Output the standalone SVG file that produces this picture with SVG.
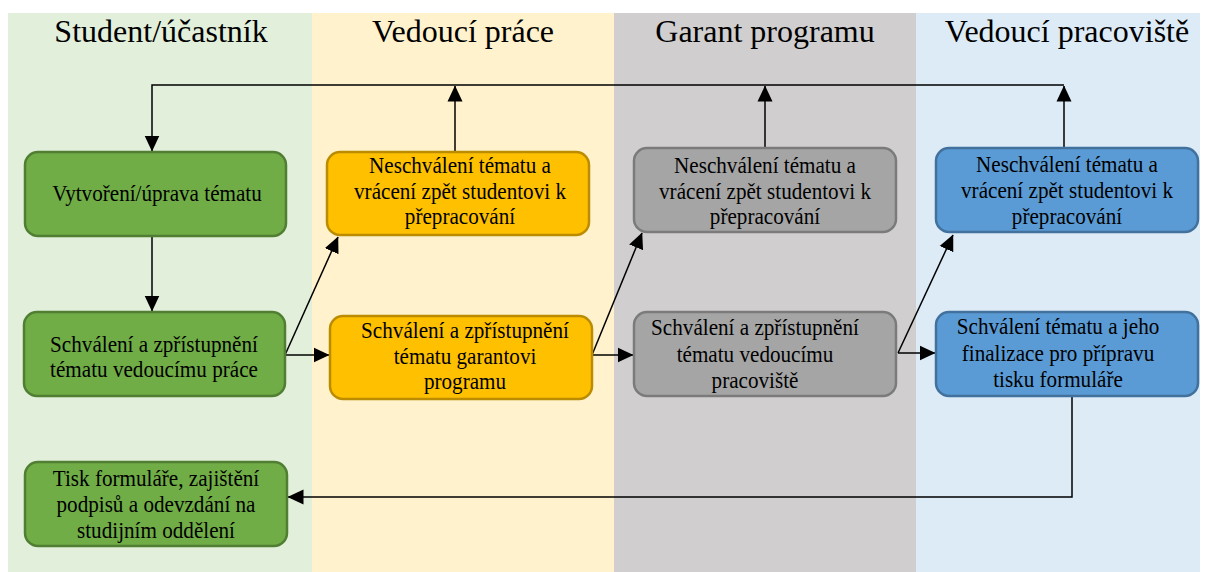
<svg xmlns="http://www.w3.org/2000/svg" width="1208" height="572" viewBox="0 0 1208 572">
<style>
.t{font-family:'Liberation Serif','Times New Roman',serif;font-size:23px;fill:#000;text-anchor:middle}
.h{font-family:'Liberation Serif','Times New Roman',serif;font-size:32px;fill:#000;text-anchor:middle}
.c{fill:none;stroke:#000;stroke-width:1.5}
.g{fill:#70AD47;stroke:#507E32;stroke-width:2.5}
.y{fill:#FFC000;stroke:#BC8C00;stroke-width:2.5}
.s{fill:#A5A5A5;stroke:#7B7B7B;stroke-width:2.5}
.b{fill:#5B9BD5;stroke:#41719C;stroke-width:2.5}
</style>
<defs>
<marker id="a" markerUnits="userSpaceOnUse" markerWidth="16" markerHeight="16" viewBox="0 0 16 16" refX="15.5" refY="8" orient="auto">
<path d="M0,0.5 L16,8 L0,15.5 Z" fill="#000"/>
</marker>
</defs>
<rect width="1208" height="572" fill="#fff"/>
<g id="lanes">
<rect x="8" y="13" width="304" height="559" fill="#E2EFDA"/>
<rect x="312" y="13" width="302" height="559" fill="#FFF2CC"/>
<rect x="614" y="13" width="302" height="559" fill="#D0CECE"/>
<rect x="916" y="13" width="284" height="559" fill="#DDEBF7"/>
<text class="h" x="161" y="42">Student/účastník</text>
<text class="h" x="463" y="42">Vedoucí práce</text>
<text class="h" x="765" y="42">Garant programu</text>
<text class="h" x="1067" y="42">Vedoucí pracoviště</text>
</g>
<g id="connectors">
<path class="c" d="M1064,85 H152 V151" marker-end="url(#a)"/>
<path class="c" d="M455,152 V86" marker-end="url(#a)"/>
<path class="c" d="M765,148 V86" marker-end="url(#a)"/>
<path class="c" d="M1064,148 V86" marker-end="url(#a)"/>
<path class="c" d="M152,236 V311" marker-end="url(#a)"/>
<path class="c" d="M285,355 H329" marker-end="url(#a)"/>
<path class="c" d="M285,355 L338,237" marker-end="url(#a)"/>
<path class="c" d="M592,355 H633" marker-end="url(#a)"/>
<path class="c" d="M592,355 L642,233" marker-end="url(#a)"/>
<path class="c" d="M898,353 H935" marker-end="url(#a)"/>
<path class="c" d="M898,353 L953,235" marker-end="url(#a)"/>
<path class="c" d="M1072,397 V497 H288" marker-end="url(#a)"/>
</g>
<g id="n1"><rect class="g" x="25" y="152" width="261" height="84" rx="13"/>
<text class="t" transform="translate(157,201) scale(0.92,1)">Vytvoření/úprava tématu</text></g>
<g id="n2"><rect class="g" x="24" y="312" width="261" height="84" rx="13"/>
<text class="t" transform="translate(154,352) scale(0.92,1)">Schválení a zpřístupnění</text>
<text class="t" transform="translate(154,377) scale(0.92,1)">tématu vedoucímu práce</text></g>
<g id="n3"><rect class="g" x="25" y="462" width="262" height="84" rx="13"/>
<text class="t" transform="translate(156,486) scale(0.92,1)">Tisk formuláře, zajištění</text>
<text class="t" transform="translate(156,512) scale(0.92,1)">podpisů a odevzdání na</text>
<text class="t" transform="translate(156,538) scale(0.92,1)">studijním oddělení</text></g>
<g id="n4"><rect class="y" x="327" y="152" width="262" height="83" rx="13"/>
<text class="t" transform="translate(460,173) scale(0.92,1)">Neschválení tématu a</text>
<text class="t" transform="translate(460,199) scale(0.92,1)">vrácení zpět studentovi k</text>
<text class="t" transform="translate(460,224) scale(0.92,1)">přepracování</text></g>
<g id="n5"><rect class="y" x="330" y="316" width="262" height="83" rx="13"/>
<text class="t" transform="translate(465,338) scale(0.92,1)">Schválení a zpřístupnění</text>
<text class="t" transform="translate(465,364) scale(0.92,1)">tématu garantovi</text>
<text class="t" transform="translate(465,389) scale(0.92,1)">programu</text></g>
<g id="n6"><rect class="s" x="634" y="148" width="262" height="84" rx="13"/>
<text class="t" transform="translate(765,173) scale(0.92,1)">Neschválení tématu a</text>
<text class="t" transform="translate(765,199) scale(0.92,1)">vrácení zpět studentovi k</text>
<text class="t" transform="translate(765,224) scale(0.92,1)">přepracování</text></g>
<g id="n7"><rect class="s" x="634" y="312" width="262" height="84" rx="13"/>
<text class="t" transform="translate(755,335) scale(0.92,1)">Schválení a zpřístupnění</text>
<text class="t" transform="translate(755,362) scale(0.92,1)">tématu vedoucímu</text>
<text class="t" transform="translate(755,388) scale(0.92,1)">pracoviště</text></g>
<g id="n8"><rect class="b" x="936" y="148" width="262" height="84" rx="13"/>
<text class="t" transform="translate(1067,172) scale(0.92,1)">Neschválení tématu a</text>
<text class="t" transform="translate(1067,198) scale(0.92,1)">vrácení zpět studentovi k</text>
<text class="t" transform="translate(1067,224) scale(0.92,1)">přepracování</text></g>
<g id="n9"><rect class="b" x="936" y="312" width="262" height="84" rx="13"/>
<text class="t" transform="translate(1058,334) scale(0.92,1)">Schválení tématu a jeho</text>
<text class="t" transform="translate(1058,361) scale(0.92,1)">finalizace pro přípravu</text>
<text class="t" transform="translate(1058,387) scale(0.92,1)">tisku formuláře</text></g>
</svg>
